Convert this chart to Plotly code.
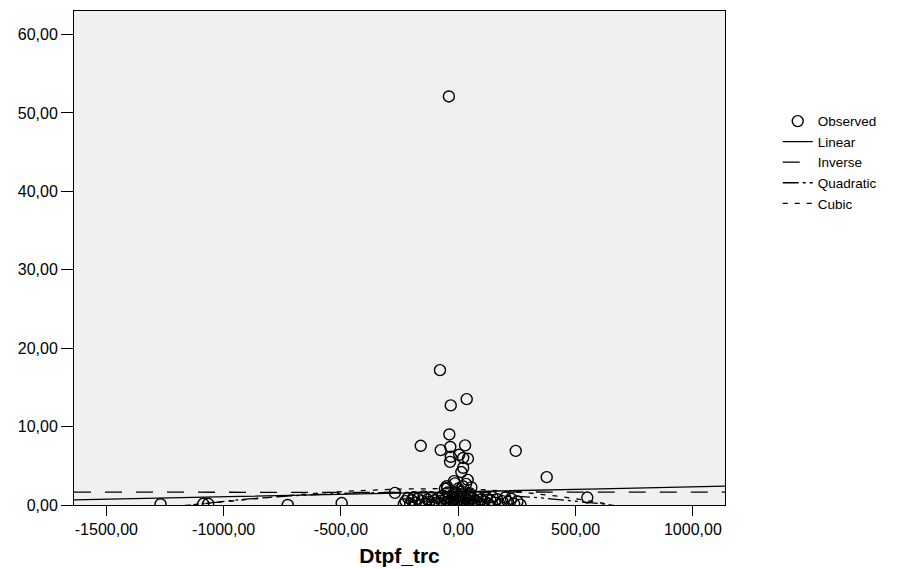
import numpy as np
import plotly.graph_objects as go

obs_x = [
    -40, -78, 36, -32, -38, -160, -75, -34, 29, 245, 377,
    -32, 4, 21, 41, -35, 21, 13, 40, -18, 33, 56, -49, -47, 19, -14, -57, 0,
    -270, 550, -1269, -1087, -1066, -727, -497,
    -45, 15, -8, 48,
    -232, -225, -214, -205, -198, -190, -182, -172, -165, -156, -148, -140,
    -131, -123, -115, -108, -100, -93, -86, -79, -72, -66, -60, -54, -48,
    -43, -38, -33, -28, -24, -19, -15, -10, -6, -2, 2, 6, 10, 14, 18, 23,
    28, 33, 38, 44, 50, 56, 62, 68, 75, 82, 89, 96, 104, 112, 120, 128,
    137, 146, 155, 165, 176, 188, 200, 212, 225, 238, 252, 265,
]
obs_y = [
    52.1, 17.2, 13.5, 12.7, 9.0, 7.55, 7.0, 7.4, 7.6, 6.9, 3.55,
    6.15, 6.4, 6.0, 5.9, 5.5, 4.75, 4.2, 3.2, 3.05, 2.7, 2.25, 2.4, 2.15, 2.4, 2.76, 2.1, 2.1,
    1.55, 0.95, 0.1, 0.15, 0.15, 0.0, 0.25,
    1.6, 1.7, 1.55, 1.5,
    0.1, 0.5, 0.9, 0.2, 0.6, 1.0, 0.3, 0.8, 0.05, 0.5, 1.1, 0.2,
    0.7, 0.4, 1.0, 0.1, 0.6, 0.3, 0.9, 0.15, 0.55, 1.2, 0.3, 0.8, 0.05,
    0.45, 1.0, 0.2, 0.65, 1.3, 0.35, 0.9, 0.1, 0.5, 1.1, 0.25, 0.75, 1.35, 0.05, 0.5, 1.0,
    0.3, 0.8, 0.1, 0.6, 1.2, 0.35, 0.85, 0.15, 0.55, 1.0, 0.25, 0.7, 0.05, 0.45, 0.95, 0.2,
    0.6, 1.0, 0.3, 0.75, 0.1, 0.5, 0.95, 0.4, 0.8, 0.15, 0.45, 0.05,
]

# ---- Fitted model coefficients ----
lin_coef = [1.68, 0.000634]
inv_coef = [1.65, 0.5]
quad_coef = [1.50, -0.000976, -2.0e-6]
cubic_coef = [2.056, -6.80e-4, -3.176e-6, -8.82e-10]

x_range = [-1638, 1137]
y_range = [0, 63]
x_tickvals = [-1500, -1000, -500, 0, 500, 1000]
x_ticktext = ["-1500,00", "-1000,00", "-500,00", "0,00", "500,00", "1000,00"]
y_tickvals = [0, 10, 20, 30, 40, 50, 60]
y_ticktext = ["0,00", "10,00", "20,00", "30,00", "40,00", "50,00", "60,00"]

FONT = "Liberation Sans, Arial, sans-serif"

xs = np.linspace(x_range[0], x_range[1], 556)
xs = xs[np.abs(xs) > 1e-9]
lin_y = lin_coef[0] + lin_coef[1] * xs
inv_y = inv_coef[0] + inv_coef[1] / xs
quad_y = quad_coef[0] + quad_coef[1] * xs + quad_coef[2] * xs ** 2
cub_y = cubic_coef[0] + cubic_coef[1] * xs + cubic_coef[2] * xs ** 2 + cubic_coef[3] * xs ** 3

fig = go.Figure()
fig.add_trace(go.Scatter(
    x=obs_x, y=obs_y, mode="markers", name="Observed",
    marker=dict(symbol="circle-open", size=11, color="black", line=dict(width=1.4, color="black")),
))
fig.add_trace(go.Scatter(x=xs, y=lin_y, mode="lines", name="Linear",
                         line=dict(color="black", width=1.3)))
fig.add_trace(go.Scatter(x=xs, y=inv_y, mode="lines", name="Inverse",
                         line=dict(color="black", width=1.3, dash="17px,14px")))
fig.add_trace(go.Scatter(x=xs, y=quad_y, mode="lines", name="Quadratic",
                         line=dict(color="black", width=1.3, dash="16px,4px,3px,4px,3px,4px")))
fig.add_trace(go.Scatter(x=xs, y=cub_y, mode="lines", name="Cubic",
                         line=dict(color="black", width=1.3, dash="5px,7px")))

axis_common = dict(
    showgrid=False, zeroline=False, showline=True, mirror=True,
    linecolor="black", linewidth=1, ticks="outside", tickcolor="black",
    tickwidth=1, tickfont=dict(family=FONT, size=16, color="black"),
)

fig.update_layout(
    width=908, height=569,
    margin=dict(l=74, r=183, t=11, b=64, autoexpand=False),
    paper_bgcolor="white", plot_bgcolor="#F0F0F0",
    font=dict(family=FONT, color="black"),
    xaxis=dict(range=x_range, tickvals=x_tickvals, ticktext=x_ticktext, ticklen=10,
               title=dict(text="<b>Dtpf_trc</b>", font=dict(family=FONT, size=21, color="black"),
                          standoff=11),
               automargin=False, **axis_common),
    yaxis=dict(range=y_range, tickvals=y_tickvals, ticktext=y_ticktext, ticklen=12,
               automargin=False, **axis_common),
    showlegend=True,
    hovermode=False,
    legend=dict(x=1.081, y=0.808, xanchor="left", yanchor="top",
                font=dict(family=FONT, size=13.5, color="black"),
                bgcolor="rgba(0,0,0,0)", borderwidth=0, itemwidth=30,
                tracegroupgap=0),
)

fig.write_html("out.html", config={"displayModeBar": False},
               post_script="document.body.style.margin='0';document.body.style.overflow='hidden';")
